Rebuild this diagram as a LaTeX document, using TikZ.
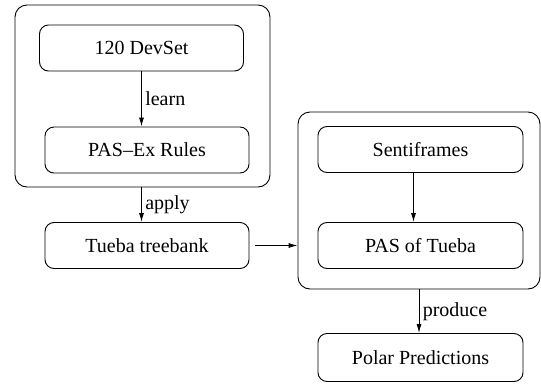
\documentclass[tikz,border=0pt]{standalone}
\usepackage{fontspec}
\setmainfont{Liberation Serif}
\usetikzlibrary{positioning,arrows.meta}
\begin{document}
\begin{tikzpicture}[x=1pt, y=-1pt, font=\fontsize{20}{24}\selectfont, line width=0.9pt]
    \tikzset{>={Latex[length=9pt,width=5pt]}}
    \tikzset{step box/.style={draw, rounded corners=9pt, minimum width=204pt, minimum height=46pt, inner sep=0pt}}
    \tikzset{group box/.style={draw, rounded corners=12pt, inner sep=0pt}}
    \useasboundingbox (0,0) rectangle (541,383);
    % left group
    \node[group box, minimum width=255pt, minimum height=182pt] (learnbox) at (142.5,96) {};
    \node[step box] (devset) at (141.5,48) {120 DevSet};
    \node[step box] (rules) at (147,150) {PAS--Ex Rules};
    \node[step box] (tueba) at (147,245.5) {Tueba treebank};
    % right group
    \node[group box, minimum width=242pt, minimum height=177pt] (pasbox) at (419,200.5) {};
    \node[step box, minimum width=205pt] (senti) at (420.5,149.5) {Sentiframes};
    \node[step box, minimum width=205pt] (pas) at (420.5,245.5) {PAS of Tueba};
    \node[step box, minimum width=205pt, minimum height=48pt] (polar) at (420.5,357.5) {Polar Predictions};
    % arrows
    \draw[->] (devset.south) -- (devset.south |- rules.north) node[midway,right] {learn};
    \draw[->] (devset.south |- learnbox.south) -- (devset.south |- tueba.north) node[midway,right] {apply};
    \draw[->, shorten <=6pt] (tueba.east) -- (tueba.east -| pasbox.west);
    \draw[->] ([xshift=-7pt]senti.south) -- ([xshift=-7pt]senti.south |- pas.north);
    \draw[->] (pasbox.south) -- (pasbox.south |- polar.north) node[midway,right] {produce};
\end{tikzpicture}
\end{document}
